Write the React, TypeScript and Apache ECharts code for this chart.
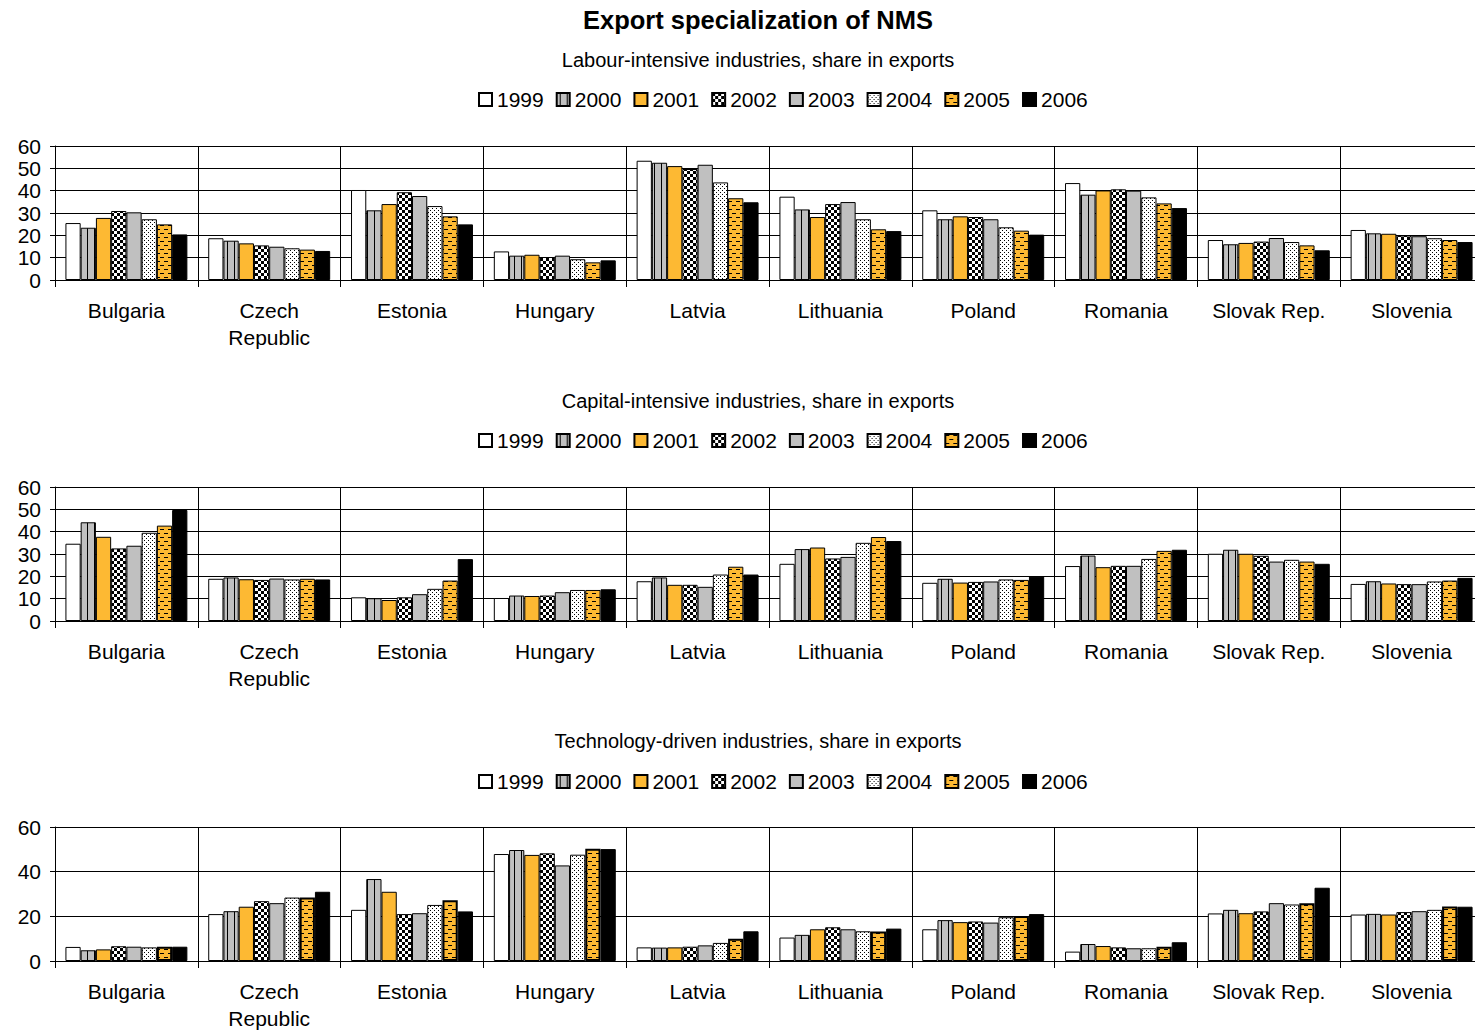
import React, { useEffect, useRef } from "react";
import * as echarts from "echarts";

const countries = ["Bulgaria", "Czech\nRepublic", "Estonia", "Hungary", "Latvia", "Lithuania", "Poland", "Romania", "Slovak Rep.", "Slovenia"];
const years = ["1999", "2000", "2001", "2002", "2003", "2004", "2005", "2006"];

const mainTitle = "Export specialization of NMS";
const panelTitles = [
  "Labour-intensive industries, share in exports",
  "Capital-intensive industries, share in exports",
  "Technology-driven industries, share in exports",
];

// rows = countries (same order as `countries`), columns = years 1999..2006
const labourShares = [
  [25.5, 23.4, 27.8, 30.9, 30.3, 27.2, 24.9, 20.4],
  [18.7, 17.6, 16.4, 15.5, 14.9, 14.2, 13.6, 13.0],
  [40.3, 31.2, 34.0, 39.3, 37.6, 33.1, 28.5, 24.9],
  [12.8, 10.9, 11.3, 10.3, 10.9, 9.3, 7.9, 8.8],
  [53.4, 52.5, 51.0, 49.7, 51.6, 43.7, 36.6, 34.8],
  [37.3, 31.6, 28.2, 34.0, 34.9, 27.2, 22.7, 21.9],
  [31.2, 27.2, 28.5, 28.2, 27.2, 23.6, 22.1, 20.3],
  [43.4, 38.2, 40.1, 40.6, 40.0, 37.0, 34.3, 32.2],
  [17.9, 16.0, 16.6, 17.2, 18.8, 17.0, 15.5, 13.3],
  [22.4, 20.9, 20.7, 19.9, 19.6, 18.7, 17.9, 17.0],
];

const capitalShares = [
  [34.6, 44.2, 37.7, 32.5, 33.7, 39.5, 42.7, 49.7],
  [18.9, 19.5, 18.7, 18.4, 19.0, 18.6, 18.9, 18.6],
  [10.6, 10.2, 9.4, 10.6, 12.0, 14.4, 18.1, 27.7],
  [10.3, 11.4, 11.2, 11.4, 12.9, 13.9, 13.9, 14.2],
  [17.8, 19.5, 16.2, 16.2, 15.3, 20.8, 24.3, 20.8],
  [25.6, 32.2, 32.9, 28.0, 28.7, 35.0, 37.6, 35.8],
  [17.1, 18.9, 17.2, 17.5, 17.7, 18.6, 18.4, 19.9],
  [24.6, 29.3, 24.1, 24.7, 24.7, 27.8, 31.4, 31.9],
  [30.1, 31.9, 30.1, 29.2, 26.6, 27.4, 26.6, 25.6],
  [16.6, 17.8, 16.8, 16.5, 16.5, 17.7, 18.1, 19.3],
];

const techShares = [
  [6.3, 4.8, 5.2, 6.6, 6.4, 6.1, 6.4, 6.4],
  [21.0, 22.3, 24.3, 26.8, 25.9, 28.4, 28.4, 31.0],
  [22.9, 36.7, 31.0, 21.0, 21.4, 25.1, 27.2, 22.2],
  [47.9, 49.7, 47.5, 48.2, 42.8, 47.6, 50.3, 50.1],
  [6.1, 6.0, 6.1, 6.4, 7.0, 8.1, 10.0, 13.3],
  [10.5, 11.7, 14.2, 15.1, 14.2, 13.3, 13.2, 14.5],
  [14.2, 18.3, 17.4, 17.7, 17.2, 19.6, 20.1, 21.0],
  [4.2, 7.6, 6.7, 6.1, 5.7, 5.7, 6.4, 8.4],
  [21.3, 22.9, 21.4, 22.2, 25.9, 25.3, 25.9, 32.8],
  [20.8, 21.1, 20.8, 21.9, 22.3, 22.9, 24.4, 24.3],
];

const yIntervals = [10, 10, 20];

const FONT = "'Liberation Sans', Arial, sans-serif";
const ORANGE = "#FDB933";
const GRAY = "#C0C0C0";

function makePattern(w: number, h: number, bg: string, draw: (ctx: CanvasRenderingContext2D) => void) {
  const c = document.createElement("canvas");
  c.width = w;
  c.height = h;
  const ctx = c.getContext("2d")!;
  ctx.fillStyle = bg;
  ctx.fillRect(0, 0, w, h);
  ctx.fillStyle = "#000";
  draw(ctx);
  return { image: c.toDataURL(), repeat: "repeat", imageWidth: w, imageHeight: h };
}

function buildFills() {
  const vert = makePattern(7, 4, GRAY, (ctx) => {
    ctx.fillRect(3, 0, 1, 4);
  });
  const checker = makePattern(6, 6, "#fff", (ctx) => {
    ctx.fillRect(0, 0, 3, 3);
    ctx.fillRect(3, 3, 3, 3);
  });
  const dots = makePattern(4, 4, "#fff", (ctx) => {
    ctx.fillRect(0, 0, 1, 1);
    ctx.fillRect(2, 2, 1, 1);
  });
  const dashes = makePattern(8, 8, ORANGE, (ctx) => {
    ctx.fillRect(0, 1, 4, 1);
    ctx.fillRect(4, 5, 4, 1);
  });
  return ["#ffffff", vert, ORANGE, checker, GRAY, dots, dashes, "#000000"];
}

export default function App() {
  const ref = useRef<HTMLDivElement>(null);

  useEffect(() => {
    if (!ref.current) return;
    const chart = echarts.init(ref.current, null, { renderer: "svg" });
    const fills = buildFills();
    const panels = [labourShares, capitalShares, techShares];
    const gridTops = [146, 487, 827];
    const legendTops = [89, 430, 771];
    const subTitleYs = [60, 401, 741];

    const grids = gridTops.map((t) => ({
      left: 55,
      width: 1428,
      top: t,
      height: 134,
      outerBoundsMode: "none",
      containLabel: false,
    }));

    const xAxes = panels.map((_, i) => ({
      type: "category",
      gridIndex: i,
      data: countries,
      axisLine: { show: true, lineStyle: { color: "#000", width: 1 } },
      axisTick: { show: true, length: 7, interval: 0, lineStyle: { color: "#000" } },
      axisLabel: { interval: 0, fontSize: 21, lineHeight: 27, margin: 17, color: "#000", fontFamily: FONT },
      splitLine: { show: true, interval: 0, lineStyle: { color: "#000", width: 1 } },
    }));

    const yAxes = panels.map((_, i) => ({
      type: "value",
      gridIndex: i,
      min: 0,
      max: 60,
      interval: yIntervals[i],
      axisLine: { show: true, lineStyle: { color: "#000", width: 1 } },
      axisTick: { show: true, length: 5, lineStyle: { color: "#000" } },
      axisLabel: { fontSize: 21, margin: 14, color: "#000", fontFamily: FONT },
      splitLine: { show: true, lineStyle: { color: "#000", width: 1 } },
    }));

    const series: any[] = [];
    panels.forEach((rows, p) => {
      years.forEach((yr, k) => {
        series.push({
          type: "bar",
          name: yr,
          xAxisIndex: p,
          yAxisIndex: p,
          data: rows.map((r) => r[k]),
          barGap: "0%",
          barCategoryGap: "14.6%",
          itemStyle: {
            color: fills[k],
            borderColor: "#000",
            borderWidth: p === 2 && k === 6 ? 2 : 1,
          },
          emphasis: { disabled: true },
        });
      });
    });

    const legends = legendTops.map((t) => ({
      left: 478,
      top: t,
      padding: 0,
      itemGap: 12,
      itemWidth: 13,
      itemHeight: 13,
      icon: "rect",
      selectedMode: false,
      data: years,
      textStyle: { fontSize: 21, color: "#000", fontFamily: FONT },
    }));

    const graphics: any[] = [
      {
        type: "text",
        x: 758,
        y: 20,
        style: {
          text: mainTitle,
          font: `bold 25.5px ${FONT}`,
          fill: "#000",
          textAlign: "center",
          textVerticalAlign: "middle",
        },
      },
      ...panelTitles.map((t, i) => ({
        type: "text",
        x: 758,
        y: subTitleYs[i],
        style: {
          text: t,
          font: `20px ${FONT}`,
          fill: "#000",
          textAlign: "center",
          textVerticalAlign: "middle",
        },
      })),
    ];

    chart.setOption({
      animation: false,
      backgroundColor: "#fff",
      grid: grids,
      xAxis: xAxes,
      yAxis: yAxes,
      legend: legends,
      series,
      graphic: graphics,
    });

    return () => chart.dispose();
  }, []);

  return <div ref={ref} style={{ position: "fixed", left: 0, top: 0, width: 1475, height: 1031 }} />;
}
